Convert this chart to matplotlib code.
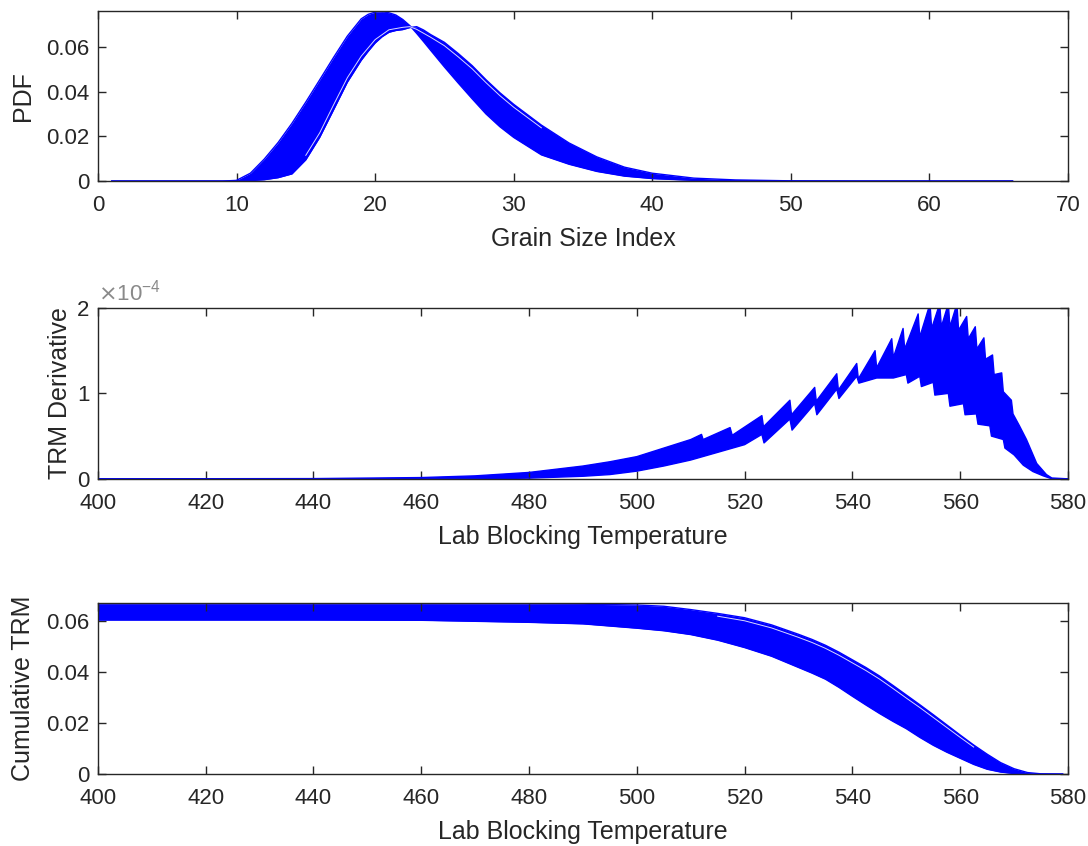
import numpy as np
from matplotlib import pyplot as plt

# --- panel 1: grain size PDF, early/tall and late/short edge curves of the ensemble
grain_idx = [1, 9, 10, 11, 12, 13, 14, 15, 16, 17, 18, 19, 19.5, 20, 20.5, 21, 21.5, 22, 22.5, 23, 23.5,
             24, 25, 26, 27, 28, 29, 30, 32, 34, 36, 38, 40, 43, 46, 50, 55, 66]
pdf_early = [0, 0, 0.0003, 0.0035, 0.0098, 0.0172, 0.0258, 0.0353, 0.0452, 0.0552, 0.0648, 0.0725, 0.0745,
             0.0755, 0.0757, 0.0752, 0.0742, 0.0722, 0.0695, 0.066, 0.0623, 0.0585, 0.051, 0.0438, 0.0368,
             0.030, 0.0243, 0.0195, 0.0117, 0.0075, 0.0043, 0.0022, 0.0011, 0.0003, 0.0001, 0, 0, 0]
pdf_late = [0, 0, 0, 0.0002, 0.0006, 0.0015, 0.0032, 0.0095, 0.0195, 0.0318, 0.0442, 0.054, 0.058, 0.0617,
            0.0645, 0.0665, 0.0673, 0.0677, 0.0686, 0.069, 0.0675, 0.0655, 0.062, 0.057, 0.0516, 0.0453,
            0.0395, 0.0343, 0.025, 0.017, 0.0108, 0.0062, 0.0035, 0.0013, 0.0005, 0.0001, 0, 0]
# thin white gap visible just inside the late curve
pdf_gap_x = [15, 16, 17, 18, 19, 20, 21, 22, 22.5, 23, 24, 25, 26, 27, 28, 29, 30, 32]
pdf_gap = [0.0115, 0.0215, 0.034, 0.0462, 0.0558, 0.0632, 0.0676, 0.0687, 0.069, 0.0678, 0.0643, 0.0605,
           0.0555, 0.0502, 0.044, 0.0382, 0.033, 0.0238]

# --- panel 2: TRM derivative envelope (units of 1e-4)
deriv_up_t = [400, 440, 460, 470, 480, 490, 495, 500, 505, 510, 512.0, 512.3, 517.3, 517.7, 523.2, 523.5,
              528.4, 528.7, 533.0, 533.3, 537.1, 537.4, 540.8, 541.1, 544.2, 544.5, 547.3, 547.6, 549.4,
              549.7, 552.2, 552.5, 554.4, 554.7, 556.2, 556.5, 557.8, 558.1, 559.4, 559.7, 561.2, 561.5,
              562.8, 563.1, 564.4, 564.7, 566.0, 566.3, 567.7, 568.0, 569.5, 569.8, 571.0, 572.3, 574.2,
              576.0, 577.0, 580]
deriv_up = [0, 0.003, 0.015, 0.035, 0.075, 0.15, 0.20, 0.26, 0.36, 0.46, 0.52, 0.46, 0.60, 0.51, 0.74, 0.61,
            0.92, 0.75, 1.07, 0.91, 1.23, 1.04, 1.35, 1.17, 1.50, 1.30, 1.64, 1.42, 1.76, 1.52, 1.93, 1.66,
            2.05, 1.76, 2.05, 1.78, 2.05, 1.78, 2.05, 1.74, 1.90, 1.64, 1.78, 1.52, 1.65, 1.40, 1.45, 1.22,
            1.24, 1.02, 0.92, 0.76, 0.62, 0.46, 0.18, 0.05, 0.01, 0]
deriv_lo_t = [400, 470, 480, 490, 495, 500, 505, 510, 515, 520, 523.2, 523.6, 528.4, 528.8, 533.0, 533.4,
              537.1, 537.5, 540.8, 541.2, 544.5, 547.6, 550.0, 550.3, 552.5, 552.8, 555.0, 555.3, 557.8,
              558.1, 560.6, 560.9, 563.0, 563.3, 565.5, 565.8, 568.0, 568.3, 570.0, 571.7, 573.5, 575.4,
              577.0, 580]
deriv_lo = [0, 0, 0.008, 0.03, 0.05, 0.09, 0.15, 0.22, 0.31, 0.40, 0.52, 0.42, 0.70, 0.57, 0.88, 0.75,
            1.05, 0.94, 1.20, 1.12, 1.18, 1.18, 1.22, 1.12, 1.20, 1.08, 1.13, 0.98, 1.0, 0.85, 0.88, 0.75,
            0.76, 0.64, 0.62, 0.50, 0.46, 0.36, 0.28, 0.16, 0.085, 0.035, 0, 0]

# --- panel 3: cumulative TRM envelope
cum_t = [400, 420, 440, 460, 480, 490, 500, 505, 510, 515, 520, 525, 530, 532.5, 535, 537.5, 540, 542.5,
         545, 547.5, 550, 552.5, 555, 557.5, 560, 562.5, 565, 567.5, 570, 572.5, 575, 579]
cum_up = [0.0668, 0.0668, 0.0668, 0.0668, 0.0667, 0.0666, 0.0663, 0.0658, 0.0645, 0.0630, 0.0613, 0.0585,
          0.0548, 0.0528, 0.0505, 0.0478, 0.0448, 0.0418, 0.0385, 0.0348, 0.031, 0.0272, 0.0233, 0.0193,
          0.0153, 0.0114, 0.0078, 0.0045, 0.0021, 0.0006, 0.0001, 0]
cum_lo = [0.0604, 0.0604, 0.0604, 0.0603, 0.0595, 0.0589, 0.0572, 0.0562, 0.0547, 0.0525, 0.0496, 0.0462,
          0.0418, 0.0396, 0.0372, 0.0340, 0.0305, 0.0271, 0.0238, 0.0207, 0.0178, 0.0144, 0.0113, 0.0086,
          0.0062, 0.0038, 0.0019, 0.0008, 0.0002, 0, 0, 0]
cum_gap_t = [515, 520, 525, 530, 532.5, 535, 537.5, 540, 542.5, 545, 547.5, 550, 552.5, 555, 557.5, 560,
             562.5]
cum_gap = [0.0619, 0.0601, 0.0573, 0.0536, 0.0516, 0.0493, 0.0466, 0.0436, 0.0406, 0.0373, 0.0336, 0.0298,
           0.0261, 0.0222, 0.0183, 0.0144, 0.0106]

BLUE = (0, 0, 1)
AXC = '#262626'
TICK_FS = 16
LABEL_FS = 18
plt.rcParams['font.family'] = ['Liberation Sans', 'DejaVu Sans']


def style_axes(ax):
    for s in ax.spines.values():
        s.set_color(AXC)
        s.set_linewidth(1.0)
    ax.tick_params(direction='in', length=6, width=1, colors=AXC, top=True, right=True,
                   labelsize=TICK_FS)
    ax.tick_params(axis='x', pad=10)
    ax.tick_params(axis='y', pad=6)


fig = plt.figure(figsize=(10.88, 8.46), dpi=100)
ax1 = fig.add_axes([0.090, 0.786, 0.8916, 0.201])
ax2 = fig.add_axes([0.090, 0.434, 0.8916, 0.202])
ax3 = fig.add_axes([0.090, 0.085, 0.8916, 0.202])

# PDF
ax1.fill_between(grain_idx, pdf_early, pdf_late, color=BLUE, lw=0)
ax1.plot(grain_idx, pdf_early, color=BLUE, lw=1)
ax1.plot(grain_idx, pdf_late, color=BLUE, lw=1)
ax1.plot(pdf_gap_x, pdf_gap, color='white', lw=0.7, alpha=0.85)
ax1.set_xlim(0, 70)
ax1.set_ylim(0, 0.076)
ax1.set_xticks(range(0, 71, 10))
ax1.set_yticks([0, 0.02, 0.04, 0.06])
ax1.set_yticklabels(['0', '0.02', '0.04', '0.06'])
ax1.set_xlabel('Grain Size Index', fontsize=LABEL_FS, color=AXC, labelpad=8)
ax1.set_ylabel('PDF', fontsize=LABEL_FS, color=AXC, labelpad=8)
style_axes(ax1)

# TRM derivative
up = np.array(deriv_up) * 1e-4
lo = np.array(deriv_lo) * 1e-4
poly_t = np.concatenate([deriv_up_t, deriv_lo_t[::-1]])
poly_v = np.concatenate([up, lo[::-1]])
ax2.fill(poly_t, poly_v, color=BLUE, lw=0)
ax2.plot(deriv_up_t, up, color=BLUE, lw=1)
ax2.plot(deriv_lo_t, lo, color=BLUE, lw=1)
ax2.set_xlim(400, 580)
ax2.set_ylim(0, 2e-4)
ax2.set_xticks(range(400, 581, 20))
ax2.set_yticks([0, 1e-4, 2e-4])
ax2.set_yticklabels(['0', '1', '2'])
ax2.text(0.0, 1.015, r'$\times\mathregular{10^{-4}}$', transform=ax2.transAxes, fontsize=TICK_FS,
         color='#8a8a8a', ha='left', va='bottom')
ax2.set_xlabel('Lab Blocking Temperature', fontsize=LABEL_FS, color=AXC, labelpad=8)
ax2.set_ylabel('TRM Derivative', fontsize=LABEL_FS, color=AXC)
style_axes(ax2)

# cumulative TRM
ax3.fill_between(cum_t, cum_up, cum_lo, color=BLUE, lw=0)
ax3.plot(cum_t, cum_up, color=BLUE, lw=1)
ax3.plot(cum_t, cum_lo, color=BLUE, lw=1)
ax3.plot(cum_gap_t, cum_gap, color='white', lw=0.7, alpha=0.85)
ax3.set_xlim(400, 580)
ax3.set_ylim(0, 0.067)
ax3.set_xticks(range(400, 581, 20))
ax3.set_yticks([0, 0.02, 0.04, 0.06])
ax3.set_yticklabels(['0', '0.02', '0.04', '0.06'])
ax3.set_xlabel('Lab Blocking Temperature', fontsize=LABEL_FS, color=AXC, labelpad=8)
ax3.set_ylabel('Cumulative TRM', fontsize=LABEL_FS, color=AXC, labelpad=8)
style_axes(ax3)

fig.savefig('out.png', dpi=100)
